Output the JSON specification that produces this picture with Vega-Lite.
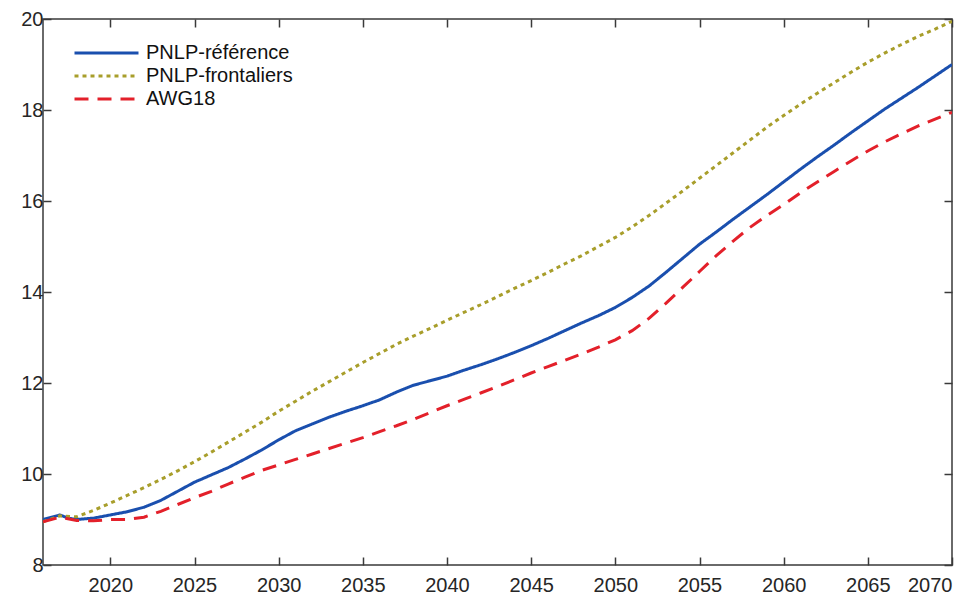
{
  "$schema": "https://vega.github.io/schema/vega-lite/v6.json",
  "width": 909,
  "height": 546,
  "autosize": "none",
  "padding": {"left": 43, "top": 19, "right": 27, "bottom": 31},
  "background": "white",
  "config": {
    "font": "Liberation Sans",
    "view": {"stroke": "#3a3a3a", "strokeWidth": 1.5},
    "axis": {
      "grid": false,
      "domain": false,
      "tickColor": "#3a3a3a",
      "tickWidth": 1.5,
      "tickSize": -8,
      "labelFontSize": 20,
      "labelColor": "#262626",
      "title": null
    }
  },
  "data": {
    "values": [
      {"year": 2016, "s": "PNLP-référence", "v": 9.0},
      {"year": 2016.5, "s": "PNLP-référence", "v": 9.05},
      {"year": 2017, "s": "PNLP-référence", "v": 9.1},
      {"year": 2017.5, "s": "PNLP-référence", "v": 9.03},
      {"year": 2018, "s": "PNLP-référence", "v": 9.0},
      {"year": 2019, "s": "PNLP-référence", "v": 9.03},
      {"year": 2020, "s": "PNLP-référence", "v": 9.1},
      {"year": 2021, "s": "PNLP-référence", "v": 9.17},
      {"year": 2022, "s": "PNLP-référence", "v": 9.27},
      {"year": 2023, "s": "PNLP-référence", "v": 9.42},
      {"year": 2024, "s": "PNLP-référence", "v": 9.62},
      {"year": 2025, "s": "PNLP-référence", "v": 9.82},
      {"year": 2026, "s": "PNLP-référence", "v": 9.98},
      {"year": 2027, "s": "PNLP-référence", "v": 10.14},
      {"year": 2028, "s": "PNLP-référence", "v": 10.33},
      {"year": 2029, "s": "PNLP-référence", "v": 10.53},
      {"year": 2030, "s": "PNLP-référence", "v": 10.75},
      {"year": 2031, "s": "PNLP-référence", "v": 10.95},
      {"year": 2032, "s": "PNLP-référence", "v": 11.1},
      {"year": 2033, "s": "PNLP-référence", "v": 11.25},
      {"year": 2034, "s": "PNLP-référence", "v": 11.38},
      {"year": 2035, "s": "PNLP-référence", "v": 11.5},
      {"year": 2036, "s": "PNLP-référence", "v": 11.63},
      {"year": 2037, "s": "PNLP-référence", "v": 11.8},
      {"year": 2038, "s": "PNLP-référence", "v": 11.95},
      {"year": 2039, "s": "PNLP-référence", "v": 12.05},
      {"year": 2040, "s": "PNLP-référence", "v": 12.15},
      {"year": 2041, "s": "PNLP-référence", "v": 12.28},
      {"year": 2042, "s": "PNLP-référence", "v": 12.4},
      {"year": 2043, "s": "PNLP-référence", "v": 12.53},
      {"year": 2044, "s": "PNLP-référence", "v": 12.67},
      {"year": 2045, "s": "PNLP-référence", "v": 12.82},
      {"year": 2046, "s": "PNLP-référence", "v": 12.98},
      {"year": 2047, "s": "PNLP-référence", "v": 13.15},
      {"year": 2048, "s": "PNLP-référence", "v": 13.32},
      {"year": 2049, "s": "PNLP-référence", "v": 13.48},
      {"year": 2050, "s": "PNLP-référence", "v": 13.66},
      {"year": 2051, "s": "PNLP-référence", "v": 13.88},
      {"year": 2052, "s": "PNLP-référence", "v": 14.13},
      {"year": 2053, "s": "PNLP-référence", "v": 14.43},
      {"year": 2054, "s": "PNLP-référence", "v": 14.74},
      {"year": 2055, "s": "PNLP-référence", "v": 15.05},
      {"year": 2056, "s": "PNLP-référence", "v": 15.32},
      {"year": 2057, "s": "PNLP-référence", "v": 15.6},
      {"year": 2058, "s": "PNLP-référence", "v": 15.87},
      {"year": 2059, "s": "PNLP-référence", "v": 16.14},
      {"year": 2060, "s": "PNLP-référence", "v": 16.42},
      {"year": 2061, "s": "PNLP-référence", "v": 16.7},
      {"year": 2062, "s": "PNLP-référence", "v": 16.97},
      {"year": 2063, "s": "PNLP-référence", "v": 17.23},
      {"year": 2064, "s": "PNLP-référence", "v": 17.5},
      {"year": 2065, "s": "PNLP-référence", "v": 17.76},
      {"year": 2066, "s": "PNLP-référence", "v": 18.02},
      {"year": 2067, "s": "PNLP-référence", "v": 18.26},
      {"year": 2068, "s": "PNLP-référence", "v": 18.5},
      {"year": 2069, "s": "PNLP-référence", "v": 18.75},
      {"year": 2070, "s": "PNLP-référence", "v": 19.0},
      {"year": 2016, "s": "PNLP-frontaliers", "v": 8.95},
      {"year": 2017, "s": "PNLP-frontaliers", "v": 9.08},
      {"year": 2018, "s": "PNLP-frontaliers", "v": 9.06},
      {"year": 2019, "s": "PNLP-frontaliers", "v": 9.2},
      {"year": 2020, "s": "PNLP-frontaliers", "v": 9.36},
      {"year": 2021, "s": "PNLP-frontaliers", "v": 9.53},
      {"year": 2022, "s": "PNLP-frontaliers", "v": 9.7},
      {"year": 2023, "s": "PNLP-frontaliers", "v": 9.88},
      {"year": 2024, "s": "PNLP-frontaliers", "v": 10.07},
      {"year": 2025, "s": "PNLP-frontaliers", "v": 10.27},
      {"year": 2026, "s": "PNLP-frontaliers", "v": 10.48},
      {"year": 2027, "s": "PNLP-frontaliers", "v": 10.7},
      {"year": 2028, "s": "PNLP-frontaliers", "v": 10.92},
      {"year": 2029, "s": "PNLP-frontaliers", "v": 11.14},
      {"year": 2030, "s": "PNLP-frontaliers", "v": 11.38},
      {"year": 2031, "s": "PNLP-frontaliers", "v": 11.6},
      {"year": 2032, "s": "PNLP-frontaliers", "v": 11.82},
      {"year": 2033, "s": "PNLP-frontaliers", "v": 12.03},
      {"year": 2034, "s": "PNLP-frontaliers", "v": 12.24},
      {"year": 2035, "s": "PNLP-frontaliers", "v": 12.45},
      {"year": 2036, "s": "PNLP-frontaliers", "v": 12.65},
      {"year": 2037, "s": "PNLP-frontaliers", "v": 12.85},
      {"year": 2038, "s": "PNLP-frontaliers", "v": 13.03},
      {"year": 2039, "s": "PNLP-frontaliers", "v": 13.2},
      {"year": 2040, "s": "PNLP-frontaliers", "v": 13.38},
      {"year": 2041, "s": "PNLP-frontaliers", "v": 13.55},
      {"year": 2042, "s": "PNLP-frontaliers", "v": 13.72},
      {"year": 2043, "s": "PNLP-frontaliers", "v": 13.9},
      {"year": 2044, "s": "PNLP-frontaliers", "v": 14.08},
      {"year": 2045, "s": "PNLP-frontaliers", "v": 14.25},
      {"year": 2046, "s": "PNLP-frontaliers", "v": 14.43},
      {"year": 2047, "s": "PNLP-frontaliers", "v": 14.62},
      {"year": 2048, "s": "PNLP-frontaliers", "v": 14.8},
      {"year": 2049, "s": "PNLP-frontaliers", "v": 15.0},
      {"year": 2050, "s": "PNLP-frontaliers", "v": 15.2},
      {"year": 2051, "s": "PNLP-frontaliers", "v": 15.43},
      {"year": 2052, "s": "PNLP-frontaliers", "v": 15.68},
      {"year": 2053, "s": "PNLP-frontaliers", "v": 15.95},
      {"year": 2054, "s": "PNLP-frontaliers", "v": 16.22},
      {"year": 2055, "s": "PNLP-frontaliers", "v": 16.5},
      {"year": 2056, "s": "PNLP-frontaliers", "v": 16.78},
      {"year": 2057, "s": "PNLP-frontaliers", "v": 17.06},
      {"year": 2058, "s": "PNLP-frontaliers", "v": 17.34},
      {"year": 2059, "s": "PNLP-frontaliers", "v": 17.62},
      {"year": 2060, "s": "PNLP-frontaliers", "v": 17.88},
      {"year": 2061, "s": "PNLP-frontaliers", "v": 18.13},
      {"year": 2062, "s": "PNLP-frontaliers", "v": 18.37},
      {"year": 2063, "s": "PNLP-frontaliers", "v": 18.6},
      {"year": 2064, "s": "PNLP-frontaliers", "v": 18.83},
      {"year": 2065, "s": "PNLP-frontaliers", "v": 19.05},
      {"year": 2066, "s": "PNLP-frontaliers", "v": 19.25},
      {"year": 2067, "s": "PNLP-frontaliers", "v": 19.44},
      {"year": 2068, "s": "PNLP-frontaliers", "v": 19.62},
      {"year": 2069, "s": "PNLP-frontaliers", "v": 19.78},
      {"year": 2070, "s": "PNLP-frontaliers", "v": 19.95},
      {"year": 2016, "s": "AWG18", "v": 8.95},
      {"year": 2017, "s": "AWG18", "v": 9.05},
      {"year": 2018, "s": "AWG18", "v": 8.98},
      {"year": 2019, "s": "AWG18", "v": 8.97},
      {"year": 2020, "s": "AWG18", "v": 9.0},
      {"year": 2021, "s": "AWG18", "v": 9.0},
      {"year": 2022, "s": "AWG18", "v": 9.05},
      {"year": 2023, "s": "AWG18", "v": 9.18},
      {"year": 2024, "s": "AWG18", "v": 9.33},
      {"year": 2025, "s": "AWG18", "v": 9.48},
      {"year": 2026, "s": "AWG18", "v": 9.62},
      {"year": 2027, "s": "AWG18", "v": 9.78},
      {"year": 2028, "s": "AWG18", "v": 9.93},
      {"year": 2029, "s": "AWG18", "v": 10.08},
      {"year": 2030, "s": "AWG18", "v": 10.2},
      {"year": 2031, "s": "AWG18", "v": 10.32},
      {"year": 2032, "s": "AWG18", "v": 10.44},
      {"year": 2033, "s": "AWG18", "v": 10.56},
      {"year": 2034, "s": "AWG18", "v": 10.68},
      {"year": 2035, "s": "AWG18", "v": 10.8},
      {"year": 2036, "s": "AWG18", "v": 10.93},
      {"year": 2037, "s": "AWG18", "v": 11.06},
      {"year": 2038, "s": "AWG18", "v": 11.2},
      {"year": 2039, "s": "AWG18", "v": 11.35},
      {"year": 2040, "s": "AWG18", "v": 11.5},
      {"year": 2041, "s": "AWG18", "v": 11.64},
      {"year": 2042, "s": "AWG18", "v": 11.78},
      {"year": 2043, "s": "AWG18", "v": 11.92},
      {"year": 2044, "s": "AWG18", "v": 12.07},
      {"year": 2045, "s": "AWG18", "v": 12.22},
      {"year": 2046, "s": "AWG18", "v": 12.36},
      {"year": 2047, "s": "AWG18", "v": 12.5},
      {"year": 2048, "s": "AWG18", "v": 12.64},
      {"year": 2049, "s": "AWG18", "v": 12.79},
      {"year": 2050, "s": "AWG18", "v": 12.95},
      {"year": 2051, "s": "AWG18", "v": 13.15},
      {"year": 2052, "s": "AWG18", "v": 13.42},
      {"year": 2053, "s": "AWG18", "v": 13.75},
      {"year": 2054, "s": "AWG18", "v": 14.1},
      {"year": 2055, "s": "AWG18", "v": 14.45},
      {"year": 2056, "s": "AWG18", "v": 14.8},
      {"year": 2057, "s": "AWG18", "v": 15.12},
      {"year": 2058, "s": "AWG18", "v": 15.42},
      {"year": 2059, "s": "AWG18", "v": 15.68},
      {"year": 2060, "s": "AWG18", "v": 15.92},
      {"year": 2061, "s": "AWG18", "v": 16.18},
      {"year": 2062, "s": "AWG18", "v": 16.42},
      {"year": 2063, "s": "AWG18", "v": 16.65},
      {"year": 2064, "s": "AWG18", "v": 16.88},
      {"year": 2065, "s": "AWG18", "v": 17.1},
      {"year": 2066, "s": "AWG18", "v": 17.3},
      {"year": 2067, "s": "AWG18", "v": 17.48},
      {"year": 2068, "s": "AWG18", "v": 17.65},
      {"year": 2069, "s": "AWG18", "v": 17.8},
      {"year": 2070, "s": "AWG18", "v": 17.95}
    ]
  },
  "resolve": {"axis": {"x": "independent", "y": "independent"}},
  "layer": [
    {
      "mark": {"type": "line", "strokeWidth": 3, "clip": true},
      "encoding": {
        "x": {
          "field": "year", "type": "quantitative",
          "scale": {"domain": [2016, 2070], "nice": false, "zero": false},
          "axis": {"orient": "bottom", "values": [2020, 2025, 2030, 2035, 2040, 2045, 2050, 2055, 2060, 2065, 2070], "format": "d", "labelPadding": 18}
        },
        "y": {
          "field": "v", "type": "quantitative",
          "scale": {"domain": [8, 20], "nice": false, "zero": false},
          "axis": {"orient": "left", "values": [8, 10, 12, 14, 16, 18, 20], "labelPadding": 8}
        },
        "color": {
          "field": "s", "type": "nominal",
          "scale": {"domain": ["PNLP-référence", "PNLP-frontaliers", "AWG18"], "range": ["#1a4fae", "#a89e2b", "#e3202a"]},
          "legend": {
            "title": null, "orient": "none", "legendX": 30, "legendY": 24,
            "symbolType": "stroke", "symbolSize": 4096, "symbolStrokeWidth": 3,
            "labelFontSize": 20, "labelColor": "#111111", "labelOffset": 6, "rowPadding": 3,
            "clipHeight": 20,
            "fillColor": "white"
          }
        },
        "strokeDash": {
          "field": "s", "type": "nominal",
          "scale": {"domain": ["PNLP-référence", "PNLP-frontaliers", "AWG18"], "range": [[1, 0], [4, 4], [14, 9]]},
          "legend": {
            "title": null, "orient": "none", "legendX": 30, "legendY": 24,
            "symbolType": "stroke", "symbolSize": 4096, "symbolStrokeWidth": 3,
            "labelFontSize": 20, "labelColor": "#111111", "labelOffset": 6, "rowPadding": 3,
            "clipHeight": 20,
            "fillColor": "white"
          }
        }
      }
    },
    {
      "mark": {"type": "point", "opacity": 0},
      "encoding": {
        "x": {
          "field": "year", "type": "quantitative",
          "axis": {"orient": "top", "values": [2020, 2025, 2030, 2035, 2040, 2045, 2050, 2055, 2060, 2065, 2070], "labels": false}
        },
        "y": {
          "field": "v", "type": "quantitative",
          "axis": {"orient": "right", "values": [8, 10, 12, 14, 16, 18, 20], "labels": false}
        }
      }
    }
  ]
}
